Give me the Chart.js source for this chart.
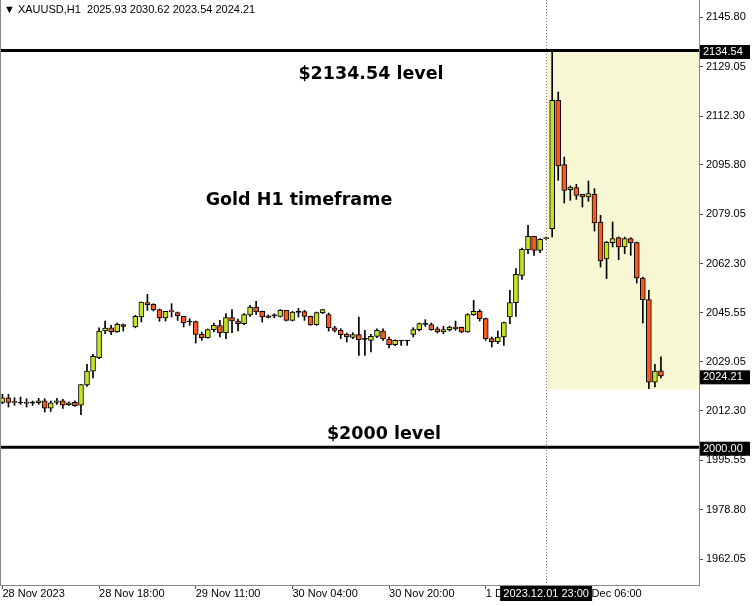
<!DOCTYPE html>
<html><head><meta charset="utf-8">
<script src="https://cdn.jsdelivr.net/npm/chart.js@4.4.1/dist/chart.umd.min.js"></script>
<style>html,body{margin:0;padding:0;background:#fff;overflow:hidden}</style>
</head><body>
<canvas id="c" width="756" height="606" style="display:block"></canvas>
<script>
// ---- DATA (XAUUSD H1) ----
const opens  = [2015.21,2016.79,2015.30,2014.98,2014.90,2014.98,2015.09,2015.77,2013.28,2015.21,
2015.77,2014.41,2015.21,2014.30,2021.09,2025.83,2030.36,2039.40,2040.53,2039.18,
2041.55,null,2040.76,2044.15,2049.01,2048.45,2046.64,2043.81,2046.07,2045.62,
2044.38,2042.50,2042.57,2038.27,2037.14,2039.86,2041.21,2038.84,2043.93,2042.80,
2041.89,2044.83,2047.54,2046.07,2044.60,2044.60,2044.38,2046.41,2043.02,2045.74,
2045.96,2044.38,2041.55,2045.62,2044.94,2040.53,2039.63,2038.27,2037.25,2038.16,
2036.58,2036.24,2037.59,2039.40,2036.69,2034.77,2036.01,2036.05,2038.27,2039.86,
2041.66,2041.55,2040.19,2039.06,2039.86,2040.76,2040.65,2039.06,2044.94,2046.07,
2043.59,2036.80,2035.78,2037.37,2044.15,2049.01,2058.28,2066.99,2071.51,2066.77,
2070.70,2074.11,2117.65,2095.82,2087.34,2088.02,2085.76,2084.86,2085.76,2076.38,
2063.83,2069.37,2071.06,2067.90,2070.72,2069.37,2057.38,2050.03,2022.10,2025.93];
const highs  = [2017.92,2017.92,2016.79,2017.01,2016.45,2015.66,2016.56,2016.45,2015.66,2016.56,
2016.22,2015.43,2015.77,2021.20,2028.10,2031.49,2040.53,2042.80,2041.33,2042.12,
2041.78,null,2044.70,2049.24,2051.84,2048.67,2046.87,2046.07,2048.67,2045.85,
2044.38,2043.59,2042.80,2039.06,2040.08,2042.12,2043.02,2045.28,2046.64,2043.47,
2045.28,2048.11,2049.47,2046.19,2044.83,2045.28,2046.64,2046.41,2046.07,2047.09,
2046.41,2044.49,2045.85,2046.75,2045.51,2040.99,2040.19,2038.72,2038.84,2044.15,
2039.63,2038.27,2040.19,2040.19,2037.37,2036.46,2036.24,2036.24,2040.53,2042.12,
2043.25,2042.12,2040.76,2040.99,2041.10,2042.80,2040.76,2045.28,2049.81,2046.64,
2043.81,2037.37,2039.40,2042.46,2053.20,2060.55,2067.56,2075.25,2071.51,2070.72,
2071.30,2134.54,2120.47,2098.42,2088.59,2089.15,2085.76,2090.28,2087.68,2078.64,
2069.82,2076.38,2071.29,2071.29,2071.06,2069.59,2057.72,2053.20,2028.09,2030.62];
const lows   = [2014.75,2013.62,2014.19,2014.53,2013.62,2014.19,2014.53,2011.93,2012.15,2014.53,
2013.17,2014.19,2013.85,2011.02,2020.63,2023.46,2030.02,2038.50,2038.16,2038.95,
2039.40,null,2040.50,2042.46,2046.41,2046.19,2042.68,2042.80,2044.15,2043.02,
2040.76,2041.33,2035.33,2036.24,2037.00,2039.06,2037.37,2036.80,2038.84,2039.40,
2041.55,2044.38,2045.06,2042.46,2043.81,2043.93,2044.15,2042.80,2042.80,2044.15,
2043.02,2041.33,2041.33,2045.28,2039.40,2039.06,2036.80,2035.67,2036.80,2031.15,
2031.15,2032.28,2037.14,2036.24,2033.64,2034.43,2034.54,2034.54,2037.37,2039.40,
2040.99,2039.63,2038.72,2038.50,2039.40,2039.63,2038.84,2038.95,2044.72,2042.80,
2036.24,2033.98,2035.11,2034.54,2041.89,2044.38,2056.93,2065.63,2065.07,2065.97,
2070.50,2071.29,2090.51,2082.82,2083.73,2084.07,2081.46,2083.39,2073.32,2061.11,
2057.15,2067.90,2063.60,2065.63,2065.07,2055.68,2042.12,2019.84,2020.41,2023.54];
const closes = [2016.79,2015.21,2015.20,2015.02,2014.85,2014.95,2015.77,2013.28,2015.09,2015.77,
2014.30,2015.09,2014.08,2021.20,2025.83,2030.81,2039.40,2040.42,2039.18,2041.66,
2040.99,null,2044.38,2049.24,2048.34,2046.64,2043.81,2046.07,2046.00,2044.60,
2042.23,2042.46,2038.27,2037.14,2039.86,2041.33,2038.84,2043.93,2042.80,2041.89,
2044.94,2047.54,2045.85,2044.15,2044.04,2044.55,2046.41,2043.02,2045.85,2045.78,
2044.38,2041.55,2045.62,2046.64,2040.53,2039.63,2038.16,2037.37,2038.16,2036.46,
2036.55,2037.59,2039.63,2036.69,2034.77,2036.24,2036.05,2036.01,2039.86,2041.89,
2041.70,2039.86,2039.06,2039.86,2040.76,2040.19,2039.06,2044.94,2046.07,2043.59,
2036.80,2035.78,2037.37,2042.23,2049.01,2058.62,2067.10,2071.51,2066.77,2070.50,
2071.10,2117.65,2095.37,2087.12,2088.25,2085.42,2084.86,2085.99,2076.04,2063.15,
2069.48,2070.72,2067.90,2070.72,2069.37,2057.38,2050.03,2022.10,2025.83,2024.21];

const xTickIndex  = [0,16,32,48,64,80,96];
const xTickLabels = ['28 Nov 2023','28 Nov 18:00','29 Nov 11:00','30 Nov 04:00','30 Nov 20:00','1 Dec 13:00','4 Dec 06:00'];
const yTicks = [2145.80,2129.05,2112.30,2095.80,2079.05,2062.30,2045.55,2029.05,2012.30,1995.55,1978.80,1962.05];
const levelHigh = 2134.54;
const levelLow = 2000.00;
const lastPrice = 2024.21;
const zoneStartIndex = 90;
const zoneLow = 2019.60;
const crossLabel = '2023.12.01 23:00';
const headerText = '\u25BC XAUUSD,H1  2025.93 2030.62 2023.54 2024.21';
const noteHigh = '$2134.54 level';
const noteMid = 'Gold H1 timeframe';
const noteLow = '$2000 level';

const X_MIN = -0.4, X_MAX = 115.3;
const Y_MIN = 1953.27, Y_MAX = 2151.67;
const BULL = '#c8e21e', BEAR = '#fa5a1e';

// ---- build datasets ----
const bodyData = [], wickData = [], bodyColors = [];
for (let i = 0; i < opens.length; i++) {
  if (opens[i] === null) continue;
  const o = opens[i], c = closes[i];
  let lo = Math.min(o, c), hi = Math.max(o, c);
  if (hi - lo < 0.35) hi = lo + 0.35;
  bodyData.push({x: i, y: [lo, hi]});
  bodyColors.push(c > o + 0.05 ? BULL : (c < o - 0.05 ? BEAR : '#000'));
  wickData.push({x: i, y: [lows[i], highs[i]]});
}

const FONT = 'Liberation Sans, Arial, sans-serif';

const overlay = {
  id: 'overlay',
  beforeDatasetsDraw(chart) {
    const {ctx, chartArea: a, scales: {x, y}} = chart;
    ctx.save();
    const zx = x.getPixelForValue(zoneStartIndex);
    const zt = y.getPixelForValue(levelHigh), zb = y.getPixelForValue(zoneLow);
    ctx.fillStyle = '#f7f7d4';
    ctx.fillRect(zx, zt, a.right - zx, zb - zt);
    ctx.strokeStyle = '#808080';
    ctx.lineWidth = 1;
    ctx.setLineDash([1, 2]);
    ctx.beginPath();
    ctx.moveTo(Math.round(zx) + 0.5, a.top);
    ctx.lineTo(Math.round(zx) + 0.5, a.bottom);
    ctx.stroke();
    ctx.restore();
  },
  afterDraw(chart) {
    const {ctx, chartArea: a, scales: {x, y}} = chart;
    ctx.save();
    ctx.strokeStyle = '#888';
    ctx.lineWidth = 1;
    ctx.beginPath(); ctx.moveTo(0.5, a.top); ctx.lineTo(0.5, a.bottom); ctx.stroke();
    ctx.fillStyle = '#000';
    ctx.font = '11px ' + FONT;
    ctx.textBaseline = 'middle';
    ctx.textAlign = 'left';
    ctx.fillText(headerText, 4, 10);
    ctx.font = 'bold 17.5px "DejaVu Sans", sans-serif';
    ctx.textAlign = 'center';
    ctx.fillText(noteHigh, 371, 74);
    ctx.fillText(noteMid, 299, 200);
    ctx.fillText(noteLow, 384, 434);
    ctx.font = '11px ' + FONT;
    ctx.textAlign = 'left';
    [levelHigh, lastPrice, levelLow].forEach(v => {
      const py = y.getPixelForValue(v) + 1.5;
      ctx.fillStyle = '#000';
      ctx.fillRect(a.right + 1, py - 7, 50, 14);
      ctx.fillStyle = '#fff';
      ctx.fillText(v.toFixed(2), a.right + 4, py);
    });
    const cx = x.getPixelForValue(zoneStartIndex);
    ctx.fillStyle = '#000';
    ctx.fillRect(cx - 46, a.bottom + 1, 92, 15);
    ctx.fillStyle = '#fff';
    ctx.textAlign = 'center';
    ctx.fillText(crossLabel, cx, a.bottom + 9);
    ctx.restore();
  }
};

const zeroPad = s => { s.paddingTop = 0; s.paddingBottom = 0; s.paddingLeft = 0; s.paddingRight = 0; };

new Chart(document.getElementById('c'), {
  type: 'bar',
  data: {
    datasets: [
      { type: 'line', order: 0, data: [{x: X_MIN, y: levelHigh}, {x: X_MAX, y: levelHigh}],
        borderColor: '#000', borderWidth: 3, pointRadius: 0, fill: false },
      { type: 'line', order: 0, data: [{x: X_MIN, y: levelLow}, {x: X_MAX, y: levelLow}],
        borderColor: '#000', borderWidth: 3, pointRadius: 0, fill: false },
      { type: 'bar', order: 1, data: bodyData, backgroundColor: bodyColors,
        borderColor: '#000', borderWidth: 1, borderSkipped: false, barThickness: 5, grouped: false },
      { type: 'bar', order: 2, data: wickData, backgroundColor: '#000',
        borderWidth: 0, barThickness: 1, grouped: false }
    ]
  },
  options: {
    responsive: false,
    animation: false,
    devicePixelRatio: 1,
    layout: { padding: 0 },
    plugins: { legend: { display: false }, tooltip: { enabled: false } },
    scales: {
      x: {
        type: 'linear', min: X_MIN, max: X_MAX, offset: false,
        afterBuildTicks: s => { s.ticks = xTickIndex.map(v => ({value: v})); },
        afterFit: s => { s.height = 21; zeroPad(s); },
        grid: { display: true, drawOnChartArea: false, tickLength: 4, color: '#555', offset: false },
        border: { display: true, color: '#888' },
        ticks: { autoSkip: false, maxRotation: 0, minRotation: 0, align: 'start', padding: -2,
          color: '#000', font: { family: FONT, size: 11 },
          callback: (v, i) => xTickLabels[i] }
      },
      y: {
        type: 'linear', position: 'right', min: Y_MIN, max: Y_MAX,
        afterBuildTicks: s => { s.ticks = yTicks.map(v => ({value: v})); },
        afterFit: s => { s.width = 57; zeroPad(s); },
        grid: { display: true, drawOnChartArea: false, tickLength: 4, color: '#555' },
        border: { display: true, color: '#888' },
        ticks: { padding: 3, color: '#000', font: { family: FONT, size: 11 },
          callback: v => Number(v).toFixed(2) }
      }
    }
  },
  plugins: [overlay]
});
</script>
</body></html>
